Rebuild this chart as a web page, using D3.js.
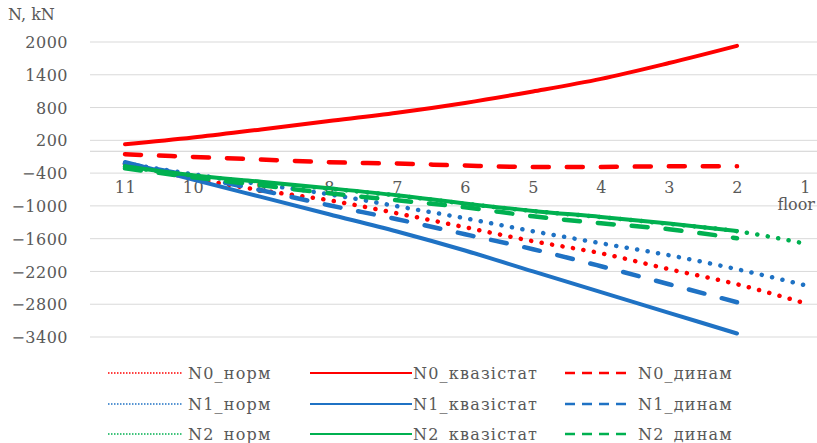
<!DOCTYPE html>
<html>
<head>
<meta charset="utf-8">
<script src="https://cdn.jsdelivr.net/npm/d3@7"></script>
<style>
  html, body { margin: 0; padding: 0; background: #fff; }
  svg { display: block; }
  text { font-family: "DejaVu Serif", serif; fill: #595959; }
</style>
</head>
<body>
<svg id="chart" width="817" height="443"></svg>
<script>
// ---- data ----
const floors = ["11", "10", "9", "8", "7", "6", "5", "4", "3", "2", "1"];
const yTicks = [2000, 1400, 800, 200, -400, -1000, -1600, -2200, -2800, -3400];

const N0_norm   = [-238, -494, -714, -897, -1135, -1391, -1647, -1867, -2159, -2434, -2782];
const N0_kvazi  = [128, 251, 400, 552, 705, 885, 1095, 1325, 1615, 1930, null];
const N0_dynam  = [-55, -104, -152, -201, -225, -262, -287, -287, -275, -275, null];
const N1_norm   = [-220, -421, -604, -787, -1006, -1226, -1464, -1684, -1903, -2159, -2452];
const N1_kvazi  = [-196, -518, -836, -1153, -1468, -1817, -2200, -2580, -2958, -3336, null];
const N1_dynam  = [-220, -458, -714, -988, -1244, -1519, -1793, -2105, -2434, -2763, null];
const N2_norm   = [-280, -445, -565, -685, -810, -960, -1095, -1205, -1330, -1464, -1690];
const N2_kvazi  = [-275, -439, -558, -677, -805, -957, -1092, -1202, -1323, -1458, null];
const N2_dynam  = [-311, -476, -622, -769, -897, -1025, -1190, -1318, -1427, -1592, null];

const seriesNames = ["N0_норм", "N0_квазістат", "N0_динам",
                     "N1_норм", "N1_квазістат", "N1_динам",
                     "N2_норм", "N2_квазістат", "N2_динам"];
const seriesValues = [N0_norm, N0_kvazi, N0_dynam, N1_norm, N1_kvazi, N1_dynam, N2_norm, N2_kvazi, N2_dynam];
const seriesKinds = ["dot", "solid", "dash", "dot", "solid", "dash", "dot", "solid", "dash"];
const seriesColors = ["#FF0000", "#FF0000", "#FF0000", "#1F72C4", "#1F72C4", "#1F72C4", "#00B050", "#00B050", "#00B050"];

// ---- layout ----
const svg = d3.select("#chart");
const plotLeft = 90, plotRight = 817;
const x = d3.scalePoint().domain(floors).range([125, 805]);
const y = d3.scaleLinear().domain([-3400, 2000]).range([337, 42]);

// gridlines
svg.append("g").selectAll("line").data(yTicks).join("line")
  .attr("x1", plotLeft).attr("x2", plotRight)
  .attr("y1", d => y(d)).attr("y2", d => y(d))
  .attr("stroke", "#d9d9d9").attr("stroke-width", 1);
// zero axis line
svg.append("line")
  .attr("x1", plotLeft).attr("x2", plotRight)
  .attr("y1", y(0)).attr("y2", y(0))
  .attr("stroke", "#d0d0d0").attr("stroke-width", 1);

// y axis labels
const yAxis = d3.axisLeft(y).tickValues(yTicks).tickSize(0).tickPadding(0).tickFormat(d3.format("d"));
const yg = svg.append("g").attr("transform", "translate(68,0)").call(yAxis);
yg.select(".domain").remove();
yg.selectAll("text").attr("font-size", 16).attr("font-family", "DejaVu Serif").attr("fill", "#595959").attr("dy", "0.35em").attr("letter-spacing", 0.5);

svg.append("text").attr("x", 8).attr("y", 20).attr("font-size", 16).text("N, kN");

// x axis labels
const xAxis = d3.axisBottom(x).tickSize(0).tickPadding(0);
const xg = svg.append("g").attr("transform", "translate(0,187)").call(xAxis);
xg.select(".domain").remove();
xg.selectAll("text").attr("font-size", 16).attr("font-family", "DejaVu Serif").attr("fill", "#595959").attr("dy", "0.35em").attr("y", 0).attr("letter-spacing", 0.5);
svg.append("text").attr("x", 815).attr("y", 210).attr("text-anchor", "end").attr("font-size", 16).text("floor");

// lines
const dashOf = k => k === "dash" ? "16,18" : (k === "dot" ? "0.1,10.5" : null);
seriesValues.forEach((vals, i) => {
  const k = seriesKinds[i];
  svg.append("path")
    .datum(vals)
    .attr("d", (d) => d3.line().defined(v => v != null).x((v, j) => x(floors[j])).y(v => y(v)).curve(d3.curveMonotoneX)(d))
    .attr("fill", "none")
    .attr("stroke", seriesColors[i])
    .attr("stroke-width", k === "solid" ? 4 : 4.5)
    .attr("stroke-linecap", "round")
    .attr("stroke-linejoin", "round")
    .attr("stroke-dasharray", dashOf(k));
});

// legend
const legCols = [{sx: 108, ex: 182, tx: 188}, {sx: 310, ex: 412, tx: 413}, {sx: 565, ex: 627, tx: 638}];
const legRows = [373, 404, 434];
seriesNames.forEach((name, i) => {
  const r = Math.floor(i / 3), c = i % 3;
  const col = legCols[c], yy = legRows[r];
  const k = seriesKinds[i];
  svg.append("line")
    .attr("x1", col.sx).attr("x2", col.ex).attr("y1", yy).attr("y2", yy)
    .attr("stroke", seriesColors[i])
    .attr("stroke-width", k === "dot" ? 1.6 : (k === "dash" ? 2.5 : 2.2))
    .attr("stroke-dasharray", k === "dash" ? "10,7" : (k === "dot" ? "1.5,1.5" : null));
  svg.append("text").attr("x", col.tx).attr("y", yy).attr("dy", "0.35em")
    .attr("font-size", 16).attr("letter-spacing", 1.2).text(name);
});
</script>
</body>
</html>
